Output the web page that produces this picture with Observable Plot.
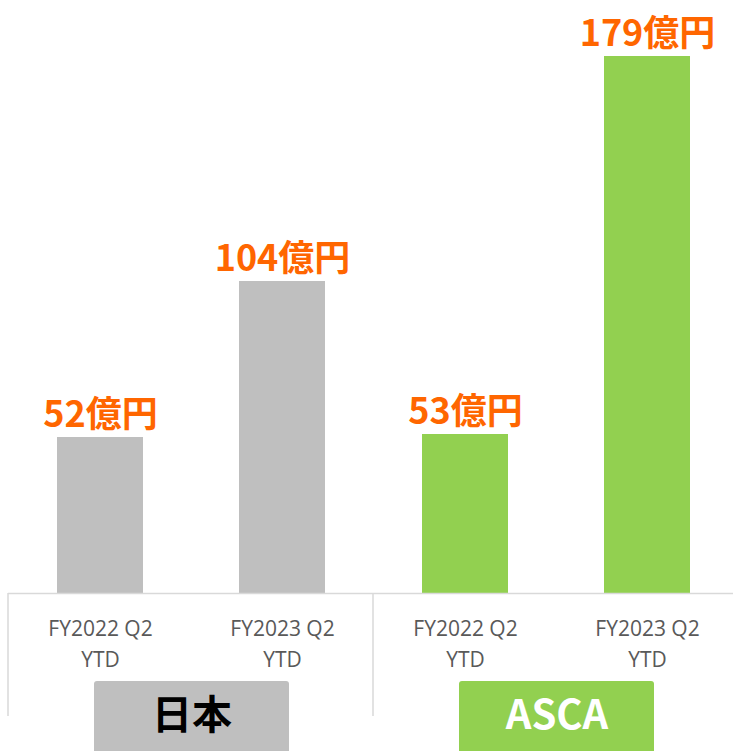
<!DOCTYPE html>
<html><head><meta charset="utf-8">
<script src="https://cdn.jsdelivr.net/npm/d3@7"></script>
<script src="https://cdn.jsdelivr.net/npm/@observablehq/plot@0.6"></script>
<style>body{margin:0;background:#fff} #chart svg{display:block}</style>
</head><body><div id="chart"></div>
<script>
const groups = ["日本", "ASCA"];
const periods = ["FY2022 Q2\nYTD", "FY2023 Q2\nYTD"];
const japanValues = [52, 104];
const ascaValues = [53, 179];
const valueUnit = "億円";

const seriesByGroup = {"日本": japanValues, "ASCA": ascaValues};
const data = groups.flatMap(g => periods.map((p, j) => ({group: g, period: p, value: seriesByGroup[g][j]})));
const groupRows = groups.map(g => ({group: g}));

const barColor = {"日本": "#bfbfbf", "ASCA": "#92d050"};
const groupTextColor = {"日本": "#000000", "ASCA": "#ffffff"};

const W = 733, H = 751, mL = 8, mR = -5;
const facetW = (W - mL - mR) / groups.length;
const cjk = "'Noto Sans CJK JP', 'Noto Sans', sans-serif";

const plot = Plot.plot({
  width: W, height: H,
  marginTop: 56, marginBottom: 158, marginLeft: mL, marginRight: mR,
  style: {background: "#fff", overflow: "hidden"},
  fx: {domain: groups, padding: 0, axis: null},
  x: {domain: periods, paddingInner: 0.53, paddingOuter: 0.265, axis: null},
  y: {domain: [0, 179], axis: null},
  marks: [
    Plot.barY(data, {fx: "group", x: "period", y: "value", fill: d => barColor[d.group]}),
    Plot.ruleY([0], {stroke: "#d9d9d9", strokeWidth: 1.5}),
    // group separators: thin rect at each facet's left edge, from the baseline down
    Plot.rect(groupRows, {fx: "group", fill: "#d9d9d9", insetLeft: -0.75, insetRight: facetW - 0.75,
      insetTop: 537, insetBottom: -123}),
    Plot.text(data, {fx: "group", x: "period", y: "value", text: d => d.value + valueUnit,
      lineAnchor: "bottom", dy: -11, fill: "#ff6600", fontSize: 36, fontWeight: "bold", fontFamily: cjk}),
    Plot.text(data, {fx: "group", x: "period", text: "period", frameAnchor: "bottom", dy: 48,
      lineAnchor: "middle", lineHeight: 1.5, fontSize: 21, fill: "#595959", fontFamily: "'Open Sans', sans-serif"}),
    Plot.rect(groupRows, {fx: "group", fill: d => barColor[d.group], insetLeft: 86, insetRight: 84,
      insetTop: 625, insetBottom: -170, rx: 3}),
    Plot.text(groupRows, {fx: "group", text: "group", frameAnchor: "bottom", dy: 123, dx: 1,
      lineAnchor: "middle", fill: d => groupTextColor[d.group], fontSize: 40, fontWeight: "bold", fontFamily: cjk})
  ]
});
document.getElementById("chart").append(plot);
</script>
</body></html>
